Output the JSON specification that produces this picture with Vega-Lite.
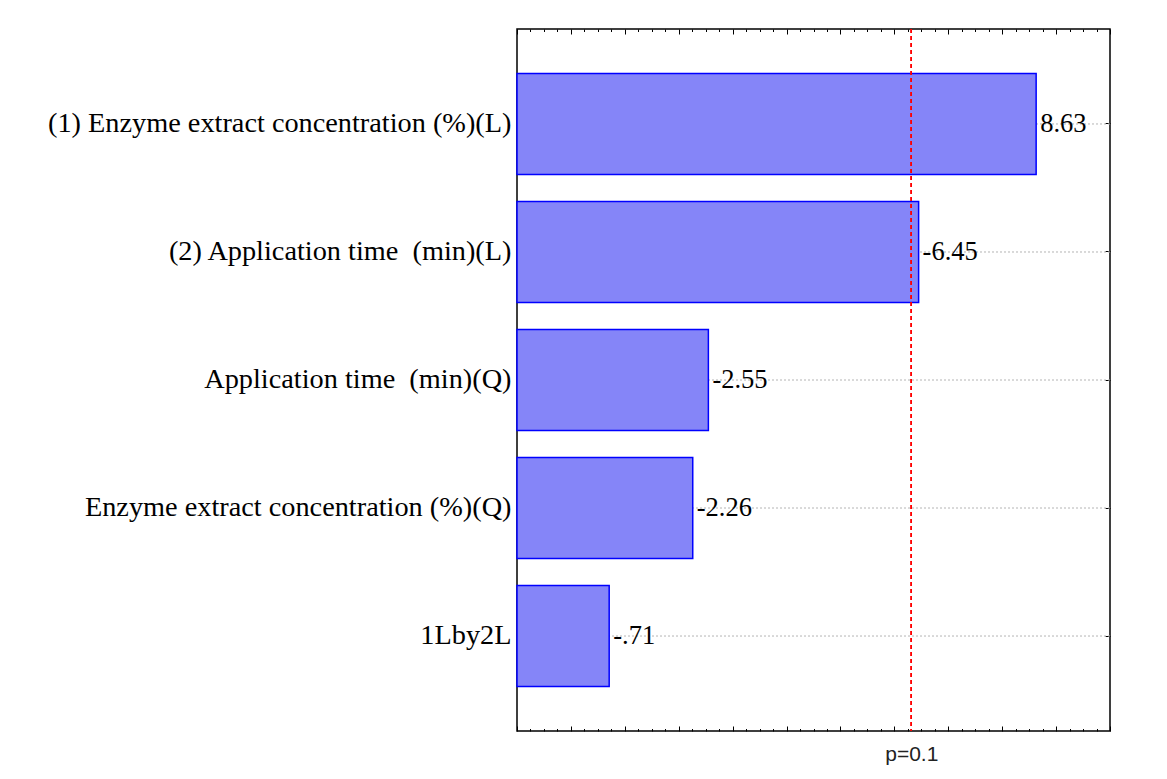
{
  "$schema": "https://vega.github.io/schema/vega-lite/v6.json",
  "width": 593,
  "height": 702,
  "autosize": "none",
  "padding": {"left": 517, "top": 29, "right": 57, "bottom": 48},
  "background": "white",
  "config": {
    "view": {"stroke": "#000", "strokeWidth": 1.5},
    "axis": {"domain": false, "grid": false, "tickColor": "#000", "tickWidth": 1}
  },
  "data": {
    "values": [
      {"term": "(1) Enzyme extract concentration (%)(L)", "abs_effect": 8.63, "label": "8.63"},
      {"term": "(2) Application time \u00a0(min)(L)", "abs_effect": 6.45, "label": "-6.45"},
      {"term": "Application time \u00a0(min)(Q)", "abs_effect": 2.55, "label": "-2.55"},
      {"term": "Enzyme extract concentration (%)(Q)", "abs_effect": 2.26, "label": "-2.26"},
      {"term": "1Lby2L", "abs_effect": 0.71, "label": "-.71"}
    ]
  },
  "layer": [
    {
      "mark": {"type": "rule", "color": "#b4b4b4", "strokeDash": [2, 2], "strokeWidth": 1},
      "encoding": {
        "y": {"field": "term", "type": "nominal", "sort": null, "axis": null}
      }
    },
    {
      "mark": {"type": "bar", "fill": "#8585f8", "stroke": "#0000ff", "strokeWidth": 1.5},
      "encoding": {
        "y": {
          "field": "term", "type": "nominal", "sort": null, "title": null,
          "scale": {"paddingInner": 0.21, "paddingOuter": 0.347},
          "axis": {"orient": "left", "labelFont": "Liberation Serif", "labelFontSize": 28.3, "labelColor": "#000", "labelLimit": 700, "labelPadding": 11, "tickSize": -5}
        },
        "x": {
          "field": "abs_effect", "type": "quantitative", "title": null,
          "scale": {"domain": [-1, 10], "nice": false, "zero": false},
          "axis": {
            "orient": "bottom",
            "values": [-1, -0.75, -0.5, -0.25, 0, 0.25, 0.5, 0.75, 1, 1.25, 1.5, 1.75, 2, 2.25, 2.5, 2.75, 3, 3.25, 3.5, 3.75, 4, 4.25, 4.5, 4.75, 5, 5.25, 5.5, 5.75, 6, 6.25, 6.5, 6.75, 7, 7.25, 7.5, 7.75, 8, 8.25, 8.5, 8.75, 9, 9.25, 9.5, 9.75, 10, 6.314],
            "labelExpr": "abs(datum.value - 6.314) < 0.001 ? 'p=0.1' : ''",
            "labelFont": "Liberation Sans", "labelFontSize": 21, "labelColor": "#222",
            "labelBaseline": "top", "labelPadding": 15, "labelFlush": false, "labelOverlap": false,
            "tickSize": {"condition": {"test": "datum.value % 1 === 0", "value": -5}, "value": -2.5},
            "tickOpacity": {"condition": {"test": "abs(datum.value - 6.314) < 0.001", "value": 0}, "value": 1}
          }
        },
        "x2": {"datum": -1}
      }
    },
    {
      "mark": {"type": "rule", "color": "#ff0000", "strokeDash": [4, 3], "strokeWidth": 1.2},
      "encoding": {
        "x": {
          "datum": 6.314, "type": "quantitative", "title": null,
          "axis": {
            "orient": "top", "labels": false,
            "values": [-1, -0.75, -0.5, -0.25, 0, 0.25, 0.5, 0.75, 1, 1.25, 1.5, 1.75, 2, 2.25, 2.5, 2.75, 3, 3.25, 3.5, 3.75, 4, 4.25, 4.5, 4.75, 5, 5.25, 5.5, 5.75, 6, 6.25, 6.5, 6.75, 7, 7.25, 7.5, 7.75, 8, 8.25, 8.5, 8.75, 9, 9.25, 9.5, 9.75, 10],
            "tickSize": {"condition": {"test": "datum.value % 1 === 0", "value": -5}, "value": -2.5}
          }
        }
      }
    },
    {
      "mark": {"type": "text", "align": "left", "baseline": "middle", "dx": 4, "font": "Liberation Serif", "fontSize": 26.5, "color": "#000"},
      "encoding": {
        "x": {"field": "abs_effect", "type": "quantitative", "axis": null},
        "y": {"field": "term", "type": "nominal", "sort": null, "title": null, "axis": {"orient": "right", "labels": false, "tickSize": -5}},
        "text": {"field": "label"}
      }
    }
  ],
  "resolve": {"axis": {"x": "independent", "y": "independent"}}
}
